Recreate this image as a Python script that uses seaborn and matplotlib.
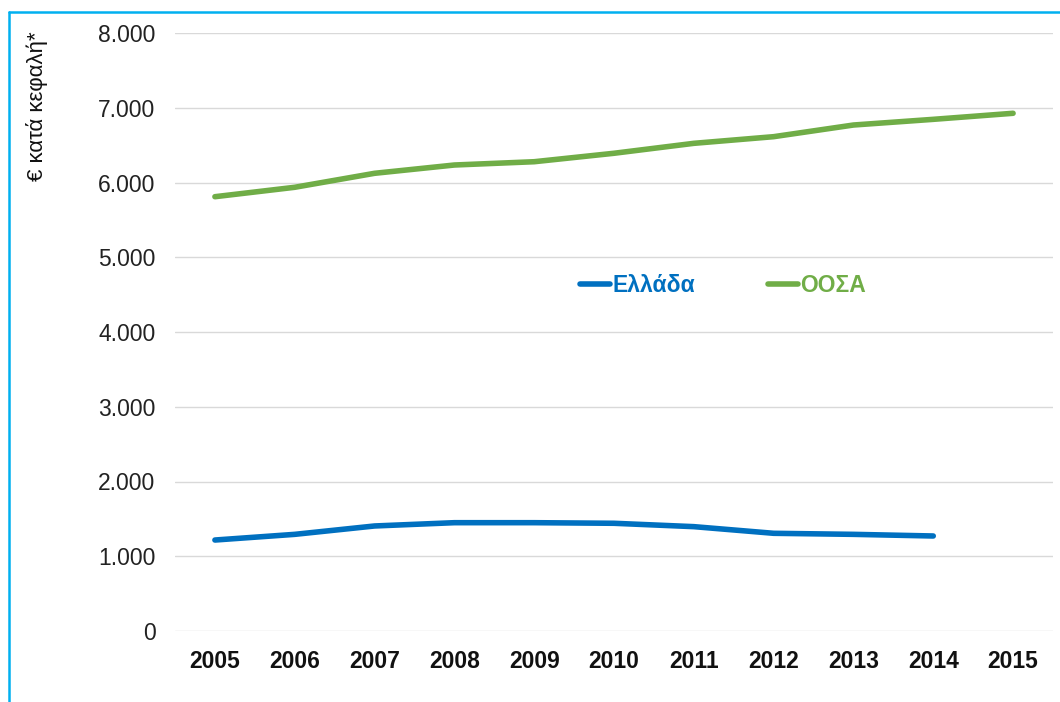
import matplotlib
matplotlib.use("Agg")
import matplotlib.pyplot as plt
import seaborn as sns
import pandas as pd
from matplotlib.ticker import FuncFormatter
from matplotlib.lines import Line2D

years = [2005, 2006, 2007, 2008, 2009, 2010, 2011, 2012, 2013, 2014, 2015]
greece = [1217, 1293, 1405, 1449, 1449, 1441, 1396, 1307, 1293, 1271, None]
oecd = [5810, 5936, 6123, 6234, 6278, 6391, 6524, 6613, 6769, 6845, 6926]
series_names = ["Ελλάδα", "ΟΟΣΑ"]
colors = ["#0070C0", "#70AD47"]
yticks = [0, 1000, 2000, 3000, 4000, 5000, 6000, 7000, 8000]
ylabel = "€ κατά κεφαλή*"

sns.set_theme(style="white")
plt.rcParams["font.family"] = ["Liberation Sans", "DejaVu Sans"]

rows = []
for name, vals in zip(series_names, [greece, oecd]):
    for y, v in zip(years, vals):
        if v is not None:
            rows.append({"year": y, "value": v, "series": name})
df = pd.DataFrame(rows)

fig = plt.figure(figsize=(10.6, 7.02), dpi=100)
ax = fig.add_axes([175/1060, 1-631/702, (1053-175)/1060, (631-33)/702])

sns.lineplot(data=df, x="year", y="value", hue="series", hue_order=series_names,
             palette=colors, linewidth=4.0, ax=ax, legend=False,
             solid_capstyle="round", solid_joinstyle="round")

ax.set_xlim(2004.5, 2015.5)
ax.set_ylim(0, 8000)
ax.set_yticks(yticks)
ax.set_xticks(years)
ax.set_xticklabels([str(y) for y in years], fontweight="bold", fontsize=16.5, color="#111111")
ax.yaxis.set_major_formatter(FuncFormatter(lambda v, p: f"{int(v):,}".replace(",", ".")))
ax.tick_params(axis="y", labelsize=16.5, length=0, pad=14, labelcolor="#222222")
ax.tick_params(axis="x", length=0, pad=14)
ax.grid(axis="y", color="#d9d9d9", linewidth=1)
ax.grid(axis="x", visible=False)
for s in ax.spines.values():
    s.set_visible(False)
ax.set_xlabel("")
ax.set_ylabel("")

handles = [Line2D([0], [0], color=c, linewidth=4.0, solid_capstyle="round") for c in colors]
leg = ax.legend(handles, series_names, ncol=2, loc="center",
                bbox_to_anchor=(0.624, 0.577), frameon=False,
                prop={"weight": "bold", "size": 16.5},
                handlelength=1.3, handletextpad=0.1, columnspacing=3.2)
for t, c in zip(leg.get_texts(), colors):
    t.set_color(c)

fig.text(37/1060, 1-106/702, ylabel, rotation=90, ha="center", va="center",
         fontsize=16, color="#111111")

# frame border (left and top)
fig.add_artist(Line2D([9/1060, 9/1060], [0, 1-12/702], transform=fig.transFigure,
                      color="#00B0F0", linewidth=1.8))
fig.add_artist(Line2D([9/1060, 1], [1-12/702, 1-12/702], transform=fig.transFigure,
                      color="#00B0F0", linewidth=1.8))

fig.savefig("out.png", dpi=100)
